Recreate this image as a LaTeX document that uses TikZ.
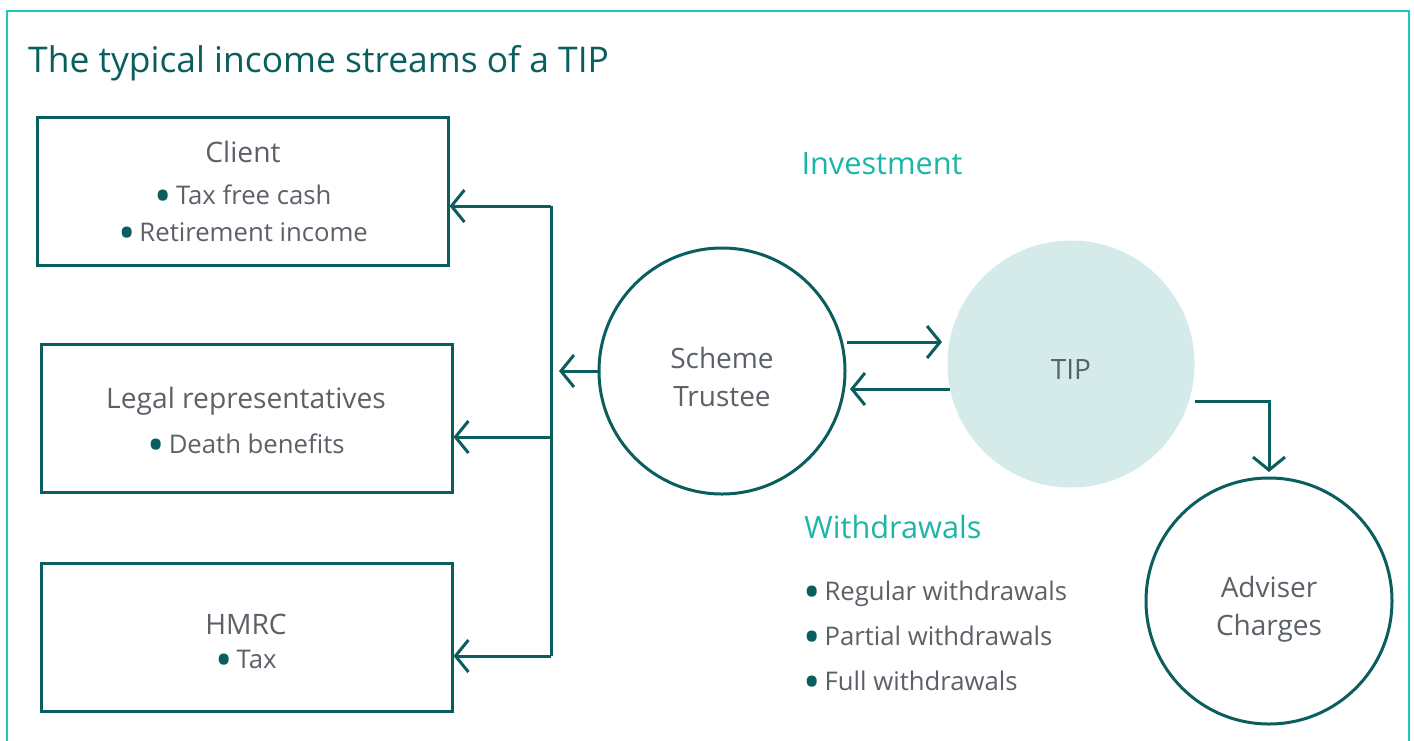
\documentclass[tikz,border=0pt]{standalone}
\usepackage{fontspec}
\setmainfont{Open Sans}
\usetikzlibrary{arrows.meta}
\definecolor{frame}{HTML}{1CC7BC}
\definecolor{dteal}{HTML}{0B5E5E}
\definecolor{txt}{HTML}{5C6168}
\definecolor{accent}{HTML}{1DB5A8}
\definecolor{tipfill}{HTML}{D4EBEA}
\tikzset{
  conn/.style={draw=dteal, line width=3pt, -{Straight Barb[length=13pt,width=32pt]}},
  plain/.style={draw=dteal, line width=3pt},
  boxnode/.style={draw=dteal, line width=3pt, minimum width=411pt, minimum height=148pt, inner sep=0pt},
  ring/.style={circle, draw=dteal, line width=3pt, minimum size=246pt, inner sep=0pt},
  head/.style={text=txt, font=\fontsize{28.2}{32}\selectfont, inner sep=0pt},
  item/.style={text=txt, font=\fontsize{25.7}{28}\selectfont, inner sep=0pt},
  lbl/.style={text=accent, font=\fontsize{30.7}{34}\selectfont, inner sep=0pt},
  ringtext/.style={text=txt, align=center, font=\fontsize{28}{38}\selectfont, inner sep=0pt},
}
\newcommand{\bul}{\raisebox{-0.32em}{\textcolor{dteal}{\scalebox{1.8}{•}}}\hspace{4pt}}
\begin{document}
\begin{tikzpicture}[x=1pt,y=-1pt]
\useasboundingbox (0,0) rectangle (1414,740);
\fill[white] (0,0) rectangle (1414,740);
\draw[frame, line width=1.8pt] (7,760) -- (7,11) -- (1409,11) -- (1409,760);
\node[anchor=west, text=dteal, font=\fontsize{35.4}{40}\selectfont, inner sep=0pt] (title) at (28,63) {The typical income streams of a TIP};

% boxes
\node[boxnode] (client) at (242.5,191) {};
\node[head] (clientt) at (243,152) {Client};
\node[item] (c1) at (243,199) {\bul Tax free cash};
\node[item] (c2) at (243,236) {\bul Retirement income};

\node[boxnode] (legal) at (246.5,418) {};
\node[head] (legalt) at (246,401) {Legal representatives};
\node[item] (l1) at (246,448) {\bul Death benefits};

\node[boxnode] (hmrc) at (246.5,637) {};
\node[head] (hmrct) at (246,624) {HMRC};
\node[item] (h1) at (246,663) {\bul Tax};

% circles
\node[ring] (trustee) at (722,371) {};
\node[ringtext] (trusteelbl) at (722,377) {Scheme\\Trustee};
\node[circle, fill=tipfill, minimum size=247pt, inner sep=0pt] (tip) at (1071,364) {};
\node[text=txt, font=\fontsize{28}{32}\selectfont, inner sep=0pt] (tiplbl) at (1071,369) {TIP};
\node[ring] (adviser) at (1269,601) {};
\node[ringtext] (adviserlbl) at (1269,609) {Adviser\\Charges};

% labels
\node[lbl] (invest) at (882,164) {Investment};
\node[lbl] (withd) at (893,527) {Withdrawals};
\node[item, anchor=west] (w1) at (803,595) {\bul Regular withdrawals};
\node[item, anchor=west] (w2) at (803,640) {\bul Partial withdrawals};
\node[item, anchor=west] (w3) at (803,685) {\bul Full withdrawals};

% connectors
\coordinate (bt) at (551,206);
\coordinate (bm) at (551,437);
\coordinate (bb) at (551,656);
\coordinate (ts) at (847,342);
\coordinate (te) at (942,342);
\coordinate (rs) at (950,389);
\coordinate (re) at (850,389);
\coordinate (ae) at (1269,472);
\draw[plain] (bt) -- (bb);
\draw[conn] (bt) -- (client.east |- bt);
\draw[conn] (bm) -- (legal.east |- bm);
\draw[conn] (bb) -- (hmrc.east |- bb);
\draw[conn] (trustee.west) -- (559,371);
\draw[conn] (ts) -- (te);
\draw[conn] (rs) -- (re);
\draw[conn] (tip.east |- 0,401) -| (ae);
\end{tikzpicture}
\end{document}
